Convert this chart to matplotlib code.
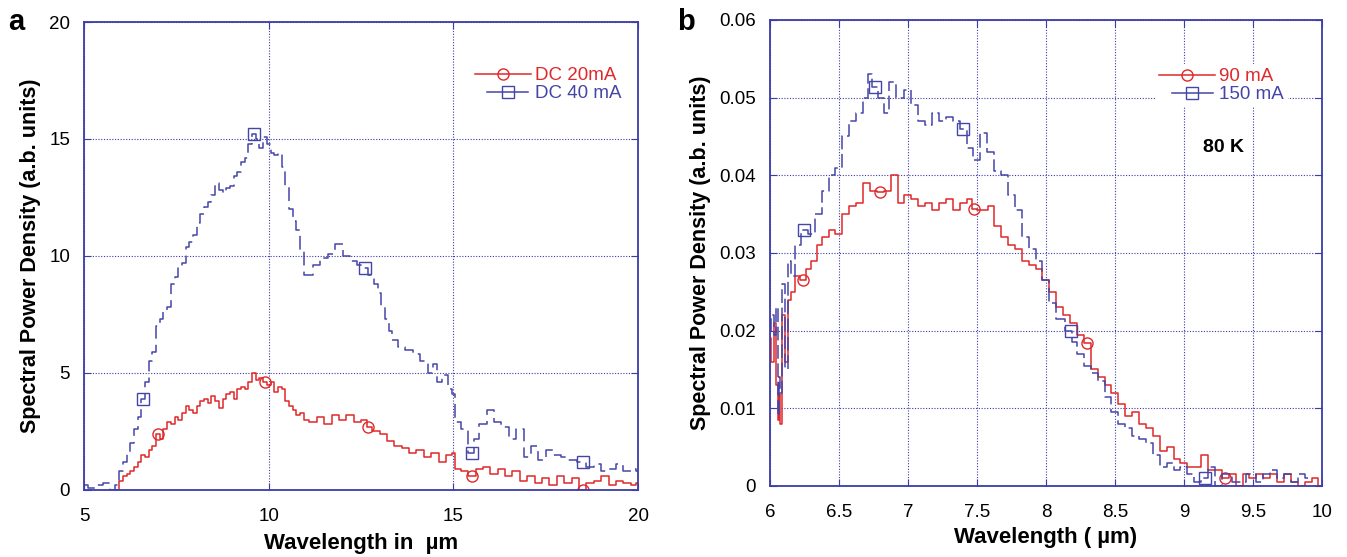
import matplotlib.pyplot as plt
import numpy as np

plt.rcParams['font.family'] = ['Liberation Sans', 'DejaVu Sans']

# panel a: wavelength (um) and spectral power density
xa_20 = [5.9, 6.0, 6.1, 6.2, 6.3, 6.4, 6.5, 6.6, 6.7, 6.8, 6.9, 7.0, 7.1, 7.2, 7.3, 7.4,
         7.5, 7.6, 7.7, 7.8, 7.9, 8.0, 8.1, 8.2, 8.3, 8.4, 8.5, 8.6, 8.7, 8.8, 8.9,
         9.0, 9.1, 9.2, 9.3, 9.4, 9.5, 9.6, 9.7, 9.8, 9.9, 10.0, 10.1, 10.2, 10.3,
         10.4, 10.5, 10.6, 10.7, 10.8, 10.9, 11.0, 11.2, 11.4, 11.6, 11.8, 12.0,
         12.2, 12.4, 12.6, 12.7, 12.9, 13.1, 13.3, 13.5, 13.7, 13.9, 14.1, 14.3,
         14.5, 14.7, 14.9, 15.0, 15.1, 15.3, 15.5, 15.7, 15.9, 16.1, 16.3, 16.5,
         16.7, 16.9, 17.1, 17.3, 17.5, 17.7, 17.9, 18.1, 18.3, 18.5, 18.7, 18.9,
         19.1, 19.3, 19.5, 19.7, 19.9, 20.0]
ya_20 = [0.0, 0.4, 0.6, 0.7, 0.8, 1.0, 1.2, 1.5, 1.4, 1.7, 1.9, 2.4, 2.2, 2.6, 2.9, 2.8,
         3.1, 3.0, 3.3, 3.6, 3.4, 3.3, 3.6, 3.8, 3.9, 3.7, 4.0, 3.8, 3.5, 3.9, 4.1,
         4.2, 3.9, 4.3, 4.4, 4.3, 4.6, 5.0, 4.7, 4.8, 4.6, 4.5, 4.6, 4.2, 4.4,
         4.3, 3.8, 3.6, 3.4, 3.2, 3.3, 3.0, 2.9, 3.1, 2.8, 3.2, 3.0,
         3.2, 2.9, 3.0, 2.7, 2.5, 2.4, 2.1, 1.9, 1.8, 1.6, 1.7, 1.4,
         1.6, 1.2, 1.5, 1.6, 0.9, 0.8, 0.6, 0.9, 1.0, 0.7, 0.9, 0.6,
         0.8, 0.4, 0.6, 0.3, 0.5, 0.2, 0.6, 0.3, 0.5, 0.0, 0.3, 0.4,
         0.6, 0.2, 0.4, 0.3, 0.2, 0.3]
xa_40 = [5.0, 5.2, 5.4, 5.6, 5.8, 5.9, 6.0, 6.1, 6.2, 6.3, 6.4, 6.5, 6.6, 6.7, 6.8, 6.9,
         7.0, 7.1, 7.2, 7.3, 7.4, 7.5, 7.6, 7.7, 7.8, 7.9, 8.0, 8.1, 8.2, 8.3, 8.4,
         8.5, 8.6, 8.7, 8.8, 8.9, 9.0, 9.1, 9.2, 9.3, 9.4, 9.5, 9.6, 9.7, 9.8, 9.9,
         10.0, 10.1, 10.2, 10.3, 10.4, 10.5, 10.6, 10.7, 10.8, 10.9, 11.0, 11.1,
         11.3, 11.5, 11.7, 11.9, 12.1, 12.3, 12.5, 12.6, 12.8, 12.9, 13.0, 13.1,
         13.2, 13.3, 13.4, 13.6, 13.8, 14.0, 14.2, 14.4, 14.5, 14.6, 14.8, 14.9,
         15.0, 15.1, 15.3, 15.5, 15.6, 15.8, 16.0, 16.2, 16.4, 16.6, 16.8, 17.0,
         17.2, 17.4, 17.6, 17.8, 18.0, 18.2, 18.5, 18.7, 18.9, 19.1, 19.3, 19.5,
         19.7, 19.9, 20.0]
ya_40 = [0.2, 0.1, 0.2, 0.3, 0.0, 0.2, 0.8, 1.2, 1.6, 2.0, 2.6, 3.1, 3.9, 4.6, 5.5, 5.9,
         7.0, 7.3, 7.7, 7.8, 8.8, 9.1, 9.6, 9.7, 10.4, 10.6, 10.9, 11.4, 11.8, 12.1, 12.3,
         12.6, 13.1, 12.8, 12.7, 12.9, 13.0, 13.4, 13.6, 14.0, 14.2, 14.8, 15.2, 15.0, 14.6,
         15.1, 14.8, 14.4, 14.3, 14.4, 13.8, 13.0, 12.0, 11.5, 11.1, 10.2, 9.2, 9.2,
         9.6, 9.9, 10.1, 10.5, 10.0, 9.8, 9.6, 9.5, 9.2, 8.8, 8.4, 7.8,
         7.3, 6.8, 6.4, 6.1, 6.0, 5.8, 5.5, 5.0, 5.4, 4.6, 4.9, 4.3,
         4.1, 2.9, 2.6, 1.6, 2.2, 2.8, 3.4, 2.9, 2.7, 2.2, 2.6, 1.4,
         1.9, 1.3, 1.7, 1.5, 1.4, 1.3, 1.2, 1.0, 1.1, 0.8, 0.9, 1.1,
         0.8, 0.9, 0.8]
mk_a20 = [7.0, 9.9, 12.7, 15.5, 18.5]
mk_a40 = [6.6, 9.6, 12.6, 15.5, 18.5]

# panel b: 80 K spectra
xb_90 = [6.0, 6.02, 6.04, 6.05, 6.06, 6.07, 6.08, 6.1, 6.12, 6.14, 6.16, 6.2, 6.24, 6.28,
         6.32, 6.36, 6.4, 6.45, 6.5, 6.55, 6.6, 6.65, 6.7, 6.75, 6.8, 6.85, 6.9, 6.95,
         7.0, 7.05, 7.1, 7.15, 7.2, 7.25, 7.3, 7.35, 7.4, 7.45, 7.48, 7.52, 7.56, 7.6,
         7.65, 7.7, 7.75, 7.8, 7.85, 7.9, 7.95, 8.0, 8.05, 8.1, 8.15, 8.2, 8.25, 8.3,
         8.35, 8.4, 8.45, 8.5, 8.55, 8.6, 8.65, 8.7, 8.75, 8.8, 8.85, 8.9, 8.95, 9.0,
         9.05, 9.1, 9.15, 9.2, 9.25, 9.3, 9.35, 9.4, 9.45, 9.5, 9.55, 9.6, 9.65, 9.7,
         9.75, 9.8, 9.85, 9.9, 9.95, 10.0]
yb_90 = [0.019, 0.016, 0.021, 0.013, 0.0085, 0.012, 0.008, 0.022, 0.016, 0.024, 0.025, 0.027, 0.0265, 0.028,
         0.029, 0.031, 0.032, 0.033, 0.0325, 0.035, 0.036, 0.0365, 0.039, 0.038, 0.0378, 0.038, 0.040, 0.0365,
         0.0375, 0.037, 0.036, 0.0365, 0.0355, 0.0365, 0.037, 0.0355, 0.0365, 0.037, 0.0357, 0.0355, 0.0355, 0.036,
         0.0335, 0.032, 0.031, 0.0305, 0.029, 0.0285, 0.028, 0.0265, 0.025, 0.023, 0.022, 0.021, 0.0195, 0.0184,
         0.015, 0.014, 0.013, 0.012, 0.0105, 0.009, 0.0095, 0.008, 0.0075, 0.0065, 0.0045, 0.005, 0.0035, 0.003,
         0.0025, 0.0025, 0.004, 0.002, 0.002, 0.001, 0.0015, 0.0, 0.0015, 0.001, 0.0015, 0.001, 0.0015, 0.0005,
         0.0015, 0.0005, 0.0, 0.0005, 0.001, 0.0]
xb_150 = [6.0, 6.02, 6.04, 6.05, 6.06, 6.07, 6.08, 6.1, 6.12, 6.14, 6.16, 6.2, 6.25, 6.3,
          6.35, 6.4, 6.45, 6.5, 6.55, 6.6, 6.65, 6.7, 6.72, 6.76, 6.8, 6.85, 6.88, 6.95,
          7.0, 7.05, 7.1, 7.15, 7.2, 7.25, 7.3, 7.35, 7.4, 7.45, 7.5, 7.55, 7.6, 7.65,
          7.7, 7.75, 7.8, 7.85, 7.9, 7.95, 8.0, 8.05, 8.1, 8.18, 8.2, 8.25, 8.3, 8.35,
          8.4, 8.45, 8.5, 8.55, 8.6, 8.65, 8.7, 8.75, 8.8, 8.85, 8.9, 8.95, 9.0, 9.05,
          9.1, 9.15, 9.2, 9.25, 9.3, 9.4, 9.5, 9.55, 9.6, 9.65, 9.7, 9.75, 9.8, 9.85,
          9.9]
yb_150 = [0.020, 0.022, 0.0195, 0.023, 0.009, 0.014, 0.012, 0.026, 0.015, 0.029, 0.027, 0.031, 0.033, 0.0325,
          0.035, 0.038, 0.040, 0.041, 0.045, 0.047, 0.048, 0.050, 0.053, 0.0514, 0.050, 0.048, 0.052, 0.050,
          0.051, 0.049, 0.047, 0.0465, 0.048, 0.047, 0.0475, 0.047, 0.046, 0.0435, 0.042, 0.0455, 0.043, 0.0405,
          0.040, 0.0375, 0.0355, 0.032, 0.0305, 0.029, 0.0265, 0.0235, 0.0215, 0.0199, 0.0185, 0.017, 0.0155, 0.0145,
          0.0135, 0.0115, 0.0095, 0.008, 0.0075, 0.0065, 0.006, 0.0055, 0.004, 0.0025, 0.003, 0.002, 0.0025, 0.0015,
          0.0005, 0.001, 0.0025, 0.0, 0.0015, 0.0005, 0.0015, 0.0005, 0.0015, 0.002, 0.001, 0.0015, 0.0005, 0.0015,
          0.001]
mk_b90 = [6.24, 6.8, 7.48, 8.3, 9.3]
mk_b150 = [6.25, 6.76, 7.4, 8.18, 9.15]

red = '#e0282a'
blue = '#4545a8'
spine = '#3c3ca8'


def mark_idx(xs, marks):
    xs = np.asarray(xs)
    return [int(np.argmin(np.abs(xs - m))) for m in marks]


def style_axes(ax):
    for s in ax.spines.values():
        s.set_color(spine)
        s.set_linewidth(1.3)
    ax.grid(True, color=spine, linestyle=(0, (1, 1.5)), linewidth=0.8)
    ax.tick_params(direction='in', length=5, color=spine, labelsize=13.5,
                   top=True, right=True)
    ax.tick_params(axis='x', pad=13)
    ax.tick_params(axis='y', pad=10)


def fix_legend(leg):
    for t, c in zip(leg.get_texts(), [red, blue]):
        t.set_color(c)
    # second handle is solid and a bit shorter, as in the original
    ln = leg.get_lines()[1]
    ln.set_linestyle('-')
    xd = np.asarray(ln.get_xdata(), dtype=float)
    w = xd[-1] - xd[0]
    ln.set_xdata(np.linspace(xd[0] + 0.22 * w, xd[-1] - 0.05 * w, len(xd)))


fig = plt.figure(figsize=(13.47, 5.57), dpi=100)
ax1 = fig.add_axes([0.0624, 0.1203, 0.4113, 0.8402])
ax2 = fig.add_axes([0.5716, 0.1275, 0.4098, 0.8366])

ax1.plot(xa_20, ya_20, color=red, lw=1.1, drawstyle='steps-mid', marker='o', ms=8,
         mfc='none', mec=red, markevery=mark_idx(xa_20, mk_a20), label='DC 20mA')
ax1.plot(xa_40, ya_40, color=blue, lw=1.1, drawstyle='steps-mid', dashes=(9, 4), marker='s', ms=9,
         mfc='none', mec=blue, markevery=mark_idx(xa_40, mk_a40), label='DC 40 mA')
ax1.set_xlim(5, 20)
ax1.set_ylim(0, 20)
ax1.set_xticks([5, 10, 15, 20])
ax1.set_yticks([0, 5, 10, 15, 20])
ax1.set_xlabel('Wavelength in  \u00b5m', fontsize=16, fontweight='bold', labelpad=6)
ax1.set_ylabel('Spectral Power Density (a.b. units)', fontsize=15.5, fontweight='bold', labelpad=6)
style_axes(ax1)
leg1 = ax1.legend(loc='upper right', bbox_to_anchor=(1.0, 0.94), frameon=False, fontsize=13.5,
                  handlelength=3.0, handletextpad=0.2, labelspacing=0.05)
fix_legend(leg1)

ax2.plot(xb_90, yb_90, color=red, lw=1.1, drawstyle='steps-mid', marker='o', ms=8,
         mfc='none', mec=red, markevery=mark_idx(xb_90, mk_b90), label='90 mA')
ax2.plot(xb_150, yb_150, color=blue, lw=1.1, drawstyle='steps-mid', dashes=(9, 3), marker='s', ms=9,
         mfc='none', mec=blue, markevery=mark_idx(xb_150, mk_b150), label='150 mA')
ax2.set_xlim(6, 10)
ax2.set_ylim(0, 0.06)
ax2.set_xticks([6, 6.5, 7, 7.5, 8, 8.5, 9, 9.5, 10])
ax2.set_xticklabels(['6', '6.5', '7', '7.5', '8', '8.5', '9', '9.5', '10'])
ax2.set_yticks([0, 0.01, 0.02, 0.03, 0.04, 0.05, 0.06])
ax2.set_yticklabels(['0', '0.01', '0.02', '0.03', '0.04', '0.05', '0.06'])
ax2.set_xlabel('Wavelength ( \u00b5m)', fontsize=16, fontweight='bold', labelpad=4)
ax2.set_ylabel('Spectral Power Density (a.b. units)', fontsize=15.5, fontweight='bold', labelpad=6)
style_axes(ax2)
leg2 = ax2.legend(loc='upper right', bbox_to_anchor=(0.955, 0.925), frameon=True, fontsize=13.5,
                  handlelength=3.0, handletextpad=0.2, labelspacing=0.05, borderpad=0.2,
                  fancybox=False)
leg2.get_frame().set_edgecolor('none')
leg2.get_frame().set_facecolor('white')
leg2.get_frame().set_alpha(1)
fix_legend(leg2)
ax2.text(9.29, 0.0436, '80 K', fontsize=14, fontweight='bold', ha='center', va='center')

fig.text(0.006, 0.985, 'a', fontsize=21, fontweight='bold', va='top')
fig.text(0.503, 0.985, 'b', fontsize=21, fontweight='bold', va='top')

fig.savefig('out.png', dpi=100)
